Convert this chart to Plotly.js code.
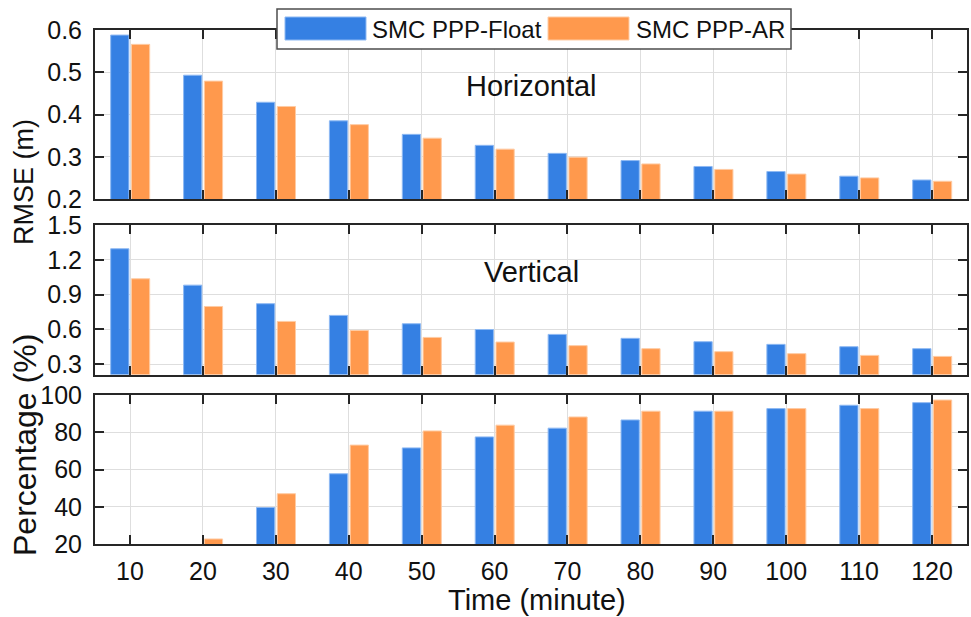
<!DOCTYPE html>
<html>
<head>
<meta charset="utf-8">
<script src="https://cdn.plot.ly/plotly-3.0.1.min.js"></script>
<style>
  html, body { margin: 0; padding: 0; background: #ffffff; }
  #chart { width: 971px; height: 617px; }
</style>
</head>
<body>
<div id="chart"></div>
<script>
// Convergence time (minutes)
const timeMin = [10, 20, 30, 40, 50, 60, 70, 80, 90, 100, 110, 120];

// Horizontal RMSE (m)
const horizFloat = [0.588, 0.493, 0.429, 0.385, 0.353, 0.327, 0.308, 0.291, 0.277, 0.265, 0.254, 0.245];
const horizAR    = [0.566, 0.479, 0.419, 0.376, 0.344, 0.318, 0.299, 0.283, 0.270, 0.259, 0.250, 0.242];

// Vertical RMSE (m)
const vertFloat = [1.295, 0.981, 0.821, 0.720, 0.648, 0.598, 0.556, 0.522, 0.493, 0.470, 0.450, 0.433];
const vertAR    = [1.036, 0.797, 0.668, 0.590, 0.530, 0.490, 0.459, 0.433, 0.407, 0.390, 0.375, 0.366];

// Percentage of converged solutions (%)
const pctFloat = [0, 0, 39.6, 57.7, 71.6, 77.5, 82.2, 86.6, 91.3, 92.7, 94.5, 95.9];
const pctAR    = [0, 22.7, 47.0, 73.1, 80.7, 83.8, 88.2, 91.3, 91.3, 92.7, 92.7, 97.3];

const seriesNames = ['SMC PPP-Float', 'SMC PPP-AR'];
const hTicks = [0.2, 0.3, 0.4, 0.5, 0.6];
const vTicks = [0.3, 0.6, 0.9, 1.2, 1.5];
const pTicks = [20, 40, 60, 80, 100];

const BLUE = '#3580E3', BLUE_EDGE = '#8EB9F3';
const ORANGE = '#FF994D', ORANGE_EDGE = '#FFCBA3';
const AXIS = '#262626', GRID = '#DEDEDE';
const FONT = 'Liberation Sans, Arial, Helvetica, sans-serif';

function barTrace(y, name, color, edge, offset, xa, ya) {
  return {
    type: 'bar', x: timeMin, y: y, name: name,
    xaxis: xa, yaxis: ya,
    width: 2.5, offset: offset,
    marker: { color: color, line: { color: edge, width: 1 } },
    showlegend: false, hoverinfo: 'x+y'
  };
}

const data = [
  barTrace(horizFloat, seriesNames[0], BLUE, BLUE_EDGE, -2.65, 'x', 'y'),
  barTrace(horizAR, seriesNames[1], ORANGE, ORANGE_EDGE, 0.2, 'x', 'y'),
  barTrace(vertFloat, seriesNames[0], BLUE, BLUE_EDGE, -2.65, 'x2', 'y2'),
  barTrace(vertAR, seriesNames[1], ORANGE, ORANGE_EDGE, 0.2, 'x2', 'y2'),
  barTrace(pctFloat, seriesNames[0], BLUE, BLUE_EDGE, -2.65, 'x3', 'y3'),
  barTrace(pctAR, seriesNames[1], ORANGE, ORANGE_EDGE, 0.2, 'x3', 'y3')
];

// plot area in pixels: left 95, right 4, top 30, bottom 73
const W = 971, H = 617, ML = 95, MR = 4, MT = 30, MB = 73;
const PW = W - ML - MR, PH = H - MT - MB;
const px = v => (v - ML) / PW;
const py = v => (H - MB - v) / PH;

function xAxis(anchor, showLabels) {
  return {
    anchor: anchor, domain: [0, 1], range: [5.2, 124.8],
    tickmode: 'array', tickvals: timeMin, ticktext: timeMin.map(String),
    showticklabels: showLabels,
    ticks: 'inside', ticklen: 9, tickwidth: 2, tickcolor: AXIS,
    showline: true, linecolor: AXIS, linewidth: 2, mirror: 'ticks',
    showgrid: true, gridcolor: GRID, gridwidth: 1, zeroline: false,
    tickfont: { family: FONT, size: 25, color: '#111111' },
    ticklabelstandoff: 4
  };
}
function yAxis(domain, range, ticks, fmt) {
  return {
    domain: domain, range: range,
    tickmode: 'array', tickvals: ticks, ticktext: ticks.map(v => v.toFixed(fmt)),
    ticks: 'inside', ticklen: 9, tickwidth: 2, tickcolor: AXIS,
    showline: true, linecolor: AXIS, linewidth: 2, mirror: 'ticks',
    showgrid: true, gridcolor: GRID, gridwidth: 1, zeroline: false,
    tickfont: { family: FONT, size: 25, color: '#111111' },
    ticklabelstandoff: 6
  };
}

const legendBox = { x0: 277, y0: 9, x1: 791, y1: 49 };
const swatches = [
  { x0: 285, x1: 366, color: BLUE, edge: BLUE_EDGE, textX: 370, label: seriesNames[0] },
  { x0: 548, x1: 629, color: ORANGE, edge: ORANGE_EDGE, textX: 634, label: seriesNames[1] }
];

const shapes = [{
  type: 'rect', xref: 'paper', yref: 'paper', layer: 'above',
  x0: px(legendBox.x0), x1: px(legendBox.x1), y0: py(legendBox.y1), y1: py(legendBox.y0),
  fillcolor: '#ffffff', line: { color: '#4D4D4D', width: 1.5 }
}];
swatches.forEach(s => shapes.push({
  type: 'rect', xref: 'paper', yref: 'paper', layer: 'above',
  x0: px(s.x0), x1: px(s.x1), y0: py(40), y1: py(17),
  fillcolor: s.color, line: { color: s.edge, width: 1 }
}));

const annotations = [
  { text: 'Horizontal', x: 0.5, y: py(86), font: { size: 29 } },
  { text: 'Vertical', x: 0.5, y: py(272), font: { size: 29 } },
  { text: 'RMSE (m)', x: px(24), y: py(182), textangle: -90, font: { size: 27 } },
  { text: 'Percentage (%)', x: px(25), y: py(445), textangle: -90, font: { size: 32 } },
  { text: 'Time (minute)', x: px(537), y: py(600), font: { size: 29 } }
].map(a => Object.assign({
  xref: 'paper', yref: 'paper', showarrow: false,
  xanchor: 'center', yanchor: 'middle'
}, a));
swatches.forEach(s => annotations.push({
  text: s.label, xref: 'paper', yref: 'paper', showarrow: false,
  x: px(s.textX), y: py(29), xanchor: 'left', yanchor: 'middle',
  font: { size: 24 }
}));
annotations.forEach(a => { a.font = Object.assign({ family: FONT, color: '#111111' }, a.font); });

const layout = {
  width: W, height: H,
  margin: { l: ML, r: MR, t: MT, b: MB, pad: 0 },
  paper_bgcolor: '#ffffff', plot_bgcolor: '#ffffff',
  barmode: 'overlay', showlegend: false,
  font: { family: FONT, color: '#111111' },
  xaxis: xAxis('y', false),
  xaxis2: xAxis('y2', false),
  xaxis3: xAxis('y3', true),
  yaxis: yAxis([py(199), 1], [0.2, 0.6], hTicks, 1),
  yaxis2: yAxis([py(374.5), py(225)], [0.21, 1.5], vTicks, 1),
  yaxis3: yAxis([0, py(395)], [20, 100], pTicks, 0),
  shapes: shapes,
  annotations: annotations
};

Plotly.newPlot('chart', data, layout, { displayModeBar: false, staticPlot: true });
</script>
</body>
</html>
